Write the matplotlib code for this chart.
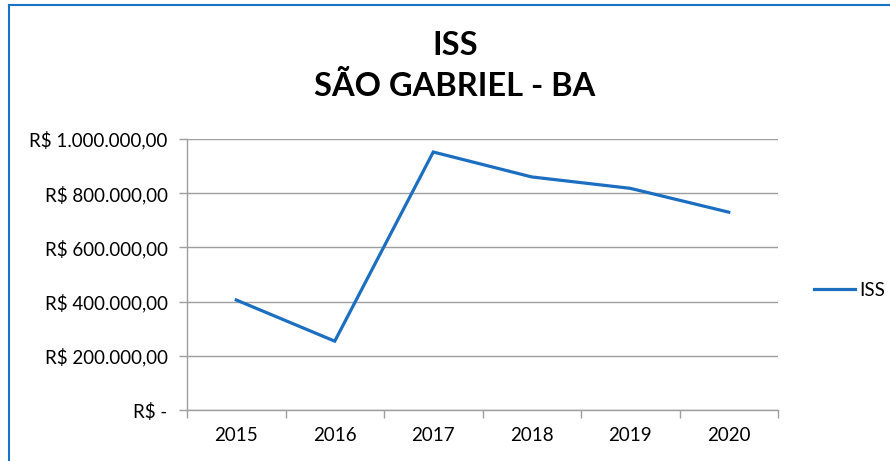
import matplotlib
matplotlib.use("Agg")
import matplotlib.pyplot as plt
from matplotlib.lines import Line2D
from matplotlib.ticker import FixedLocator

plt.rcParams['font.family'] = ['Lato', 'DejaVu Sans']

years = ["2015", "2016", "2017", "2018", "2019", "2020"]
iss_values = [406000, 254000, 952000, 860000, 818000, 730000]
y_ticks = [0, 200000, 400000, 600000, 800000, 1000000]
y_tick_labels = ["R$ -", "R$ 200.000,00", "R$ 400.000,00", "R$ 600.000,00",
                 "R$ 800.000,00", "R$ 1.000.000,00"]
title_text = "ISS\nSÃO GABRIEL - BA"
series_name = "ISS"

line_color = "#1C6EC0"
grid_color = "#9E9E9E"

fig = plt.figure(figsize=(8.9, 4.61), dpi=100)
ax = fig.add_axes([187/890, 1 - 410/461, (778 - 187)/890, (410 - 139)/461])

x = list(range(len(years)))
ax.plot(x, iss_values, color=line_color, lw=2.3, solid_joinstyle='miter',
        label=series_name)

ax.set_xlim(-0.5, len(years) - 0.5)
ax.set_ylim(0, 1000000)
ax.set_yticks(y_ticks)
ax.set_yticklabels(y_tick_labels)
ax.yaxis.grid(True, color=grid_color, lw=1)
ax.set_axisbelow(True)

ax.set_xticks(x)
ax.set_xticklabels(years)
ax.xaxis.set_minor_locator(FixedLocator([i - 0.5 for i in range(len(years) + 1)]))
ax.tick_params(axis='x', which='major', length=0, pad=12, labelsize=13.5, colors='#000000')
ax.tick_params(axis='x', which='minor', length=6, width=1, color=grid_color)
ax.tick_params(axis='y', length=6, width=1, color=grid_color, pad=8, labelsize=13.5)

for s in ['top', 'right']:
    ax.spines[s].set_visible(False)
for s in ['left', 'bottom']:
    ax.spines[s].set_color(grid_color)
    ax.spines[s].set_linewidth(1)

fig.text(455/890, 1 - 66/461, title_text, ha='center', va='center',
         fontsize=23.5, fontweight='bold', linespacing=1.4)

# legend
leg_handle = Line2D([0], [0], color=line_color, lw=2.3)
fig.legend([leg_handle], [series_name], loc='center left',
           bbox_to_anchor=(797/890, 1 - 290/461), frameon=False,
           fontsize=13.5, handlelength=2.2, handletextpad=0.2)

# chart border (blue, top and left visible)
fig.add_artist(Line2D([8.5/890, 1.0], [1 - 5.5/461, 1 - 5.5/461],
                      transform=fig.transFigure, color="#1A72C4", lw=1.5))
fig.add_artist(Line2D([8.5/890, 8.5/890], [0, 1 - 5.5/461],
                      transform=fig.transFigure, color="#1A72C4", lw=1.5))

fig.savefig("out.png", dpi=100, facecolor='white')
